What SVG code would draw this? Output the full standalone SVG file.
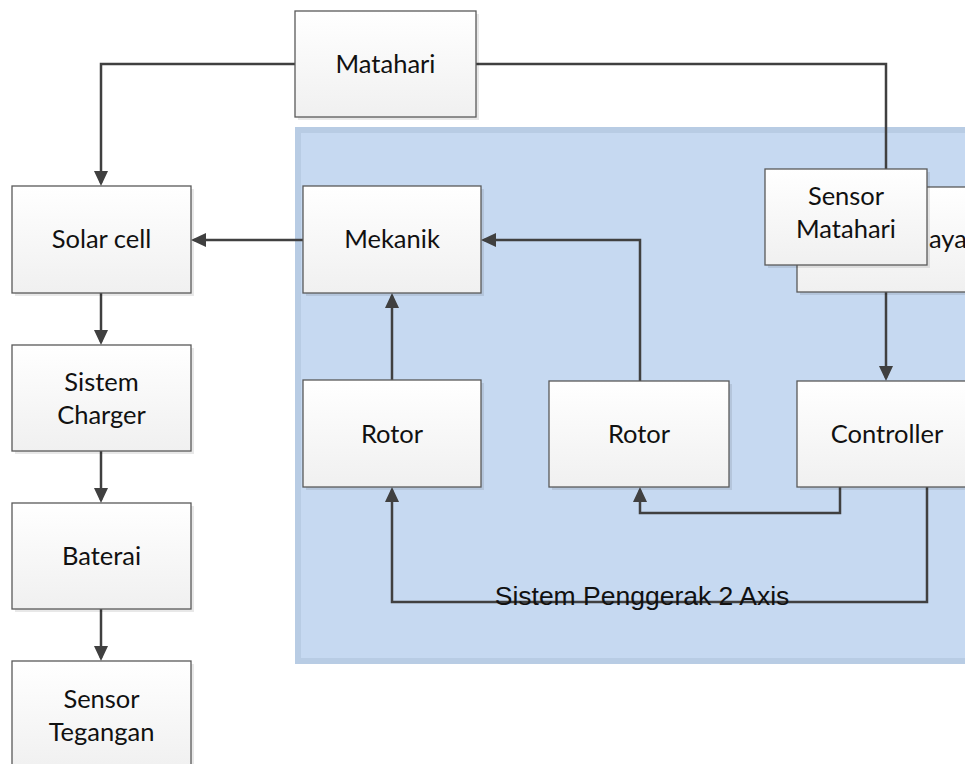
<svg xmlns="http://www.w3.org/2000/svg" width="965" height="764" viewBox="0 0 965 764">
<style>
.sh{fill:#000;fill-opacity:0.09}
.bx{fill:url(#g);stroke:#595959;stroke-width:1.3}
.t{font-family:Lato,"Open Sans",sans-serif;font-size:25.5px;fill:#111;text-anchor:middle}
.c{fill:none;stroke:#404040;stroke-width:2.5}
.ca{fill:none;stroke:#404040;stroke-width:2.5;marker-end:url(#ah)}
</style>
<defs>
<linearGradient id="g" x1="0" y1="0" x2="0" y2="1">
<stop offset="0" stop-color="#ffffff"/>
<stop offset="1" stop-color="#f0f0f0"/>
</linearGradient>
<marker id="ah" markerUnits="userSpaceOnUse" viewBox="0 0 15 14" markerWidth="15" markerHeight="14" refX="12" refY="7" orient="auto">
<path d="M0,0 L15,7 L0,14 z" fill="#404040"/>
</marker>
</defs>
<rect width="965" height="764" fill="#ffffff"/>
<g id="container">
<rect x="298" y="130" width="700" height="531" fill="#c6d9f1" stroke="#b8cce4" stroke-width="6"/>
</g>
<g id="connectors">
<path class="ca" d="M295,64 H101 V183"/>
<path class="c" d="M476,64 H886 V169"/>
<path class="ca" d="M303,240 H194"/>
<path class="ca" d="M101,293 V342"/>
<path class="ca" d="M101,451 V500"/>
<path class="ca" d="M101,609 V658"/>
<path class="ca" d="M392,380 V296"/>
<path class="ca" d="M640,381 V240 H484"/>
<path class="ca" d="M886,292 V378"/>
<path class="ca" d="M840,487 V513 H640 V490"/>
<path class="ca" d="M927,487 V602 H392 V490"/>
</g>
<text id="container-label" x="642" y="605" style="font-family:'Liberation Sans',Arial,sans-serif;font-size:26.5px;fill:#111;text-anchor:middle">Sistem Penggerak 2 Axis</text>
<g id="matahari">
<rect class="sh" x="298" y="14" width="181" height="106"/>
<rect class="bx" x="295" y="11" width="181" height="106"/>
<text class="t" x="385.5" y="73">Matahari</text>
</g>
<g id="solar-cell">
<rect class="sh" x="15" y="189" width="179" height="107"/>
<rect class="bx" x="12" y="186" width="179" height="107"/>
<text class="t" x="101.5" y="248">Solar cell</text>
</g>
<g id="sistem-charger">
<rect class="sh" x="15" y="348" width="179" height="106"/>
<rect class="bx" x="12" y="345" width="179" height="106"/>
<text class="t" x="101.5" y="391">Sistem</text>
<text class="t" x="101.5" y="424">Charger</text>
</g>
<g id="baterai">
<rect class="sh" x="15" y="506" width="179" height="106"/>
<rect class="bx" x="12" y="503" width="179" height="106"/>
<text class="t" x="101.5" y="565">Baterai</text>
</g>
<g id="sensor-tegangan">
<rect class="sh" x="15" y="664" width="179" height="110"/>
<rect class="bx" x="12" y="661" width="179" height="110"/>
<text class="t" x="101.5" y="708">Sensor</text>
<text class="t" x="101.5" y="741">Tegangan</text>
</g>
<g id="mekanik">
<rect class="sh" x="306" y="189" width="178" height="107"/>
<rect class="bx" x="303" y="186" width="178" height="107"/>
<text class="t" x="392" y="248">Mekanik</text>
</g>
<g id="rotor-1">
<rect class="sh" x="306" y="383" width="178" height="107"/>
<rect class="bx" x="303" y="380" width="178" height="107"/>
<text class="t" x="392" y="443">Rotor</text>
</g>
<g id="rotor-2">
<rect class="sh" x="552" y="384" width="180" height="106"/>
<rect class="bx" x="549" y="381" width="180" height="106"/>
<text class="t" x="639" y="443">Rotor</text>
</g>
<g id="controller">
<rect class="sh" x="800" y="384" width="180" height="106"/>
<rect class="bx" x="797" y="381" width="180" height="106"/>
<text class="t" x="887" y="443">Controller</text>
</g>
<g id="sensor-cahaya">
<rect class="sh" x="800" y="190" width="180" height="105"/>
<rect class="bx" x="797" y="187" width="180" height="105"/>
<text x="929" y="248" style="font-family:Lato,'Open Sans',sans-serif;font-size:25.5px;fill:#111">aya</text>
</g>
<g id="sensor-matahari">
<rect class="sh" x="768" y="172" width="162" height="96"/>
<rect class="bx" x="765" y="169" width="162" height="96"/>
<text class="t" x="846" y="205">Sensor</text>
<text class="t" x="846" y="238">Matahari</text>
</g>
</svg>
